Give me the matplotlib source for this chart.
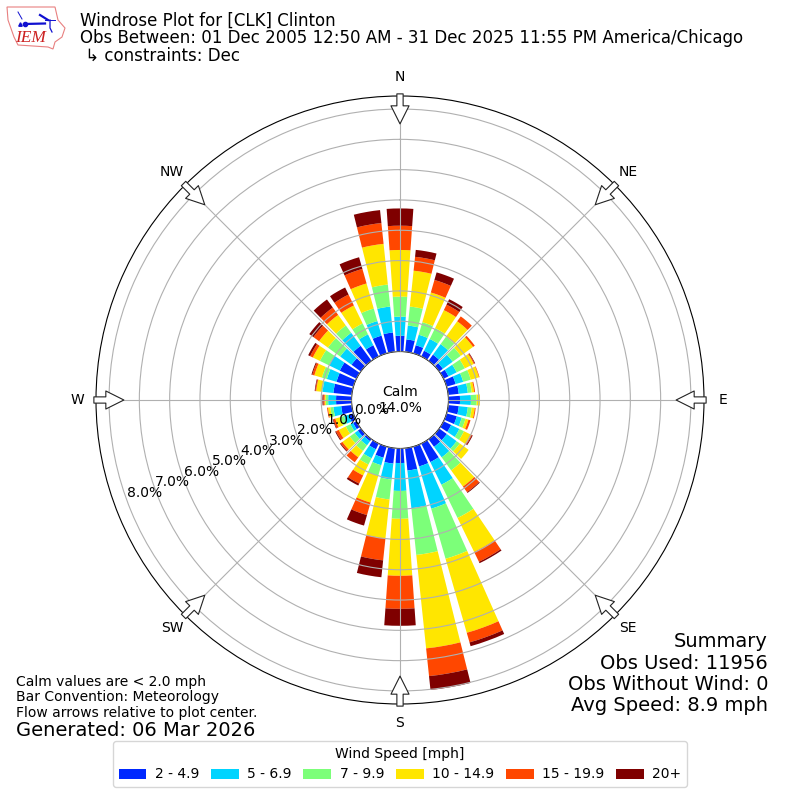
import numpy as np
import matplotlib
matplotlib.use("Agg")
import matplotlib.pyplot as plt
from matplotlib.patches import Polygon

directions = list(range(0, 360, 10))
speed_labels = ["2 - 4.9", "5 - 6.9", "7 - 9.9", "10 - 14.9", "15 - 19.9", "20+"]
speed_colors = ["#0028ff", "#00d4ff", "#7cff79", "#ffe600", "#ff4700", "#7f0000"]
speed_2_5 = [.52,.41,.28,.21,.25,.15,.18,.31,.35,.38,.35,.35,.28,.31,.31,.68,.68,.74,.48,.51,.38,.21,.08,.12,.12,.15,.35,.51,.61,.58,.61,.38,.61,.41,.61,.64]
speed_5_7 = [.63,.46,.36,.43,.43,.40,.30,.26,.30,.36,.30,.17,.30,.40,.43,.83,1.45,1.25,.92,.53,.26,.33,.17,.13,.10,.17,.26,.26,.36,.33,.40,.46,.53,.40,.50,.86]
speed_7_10 = [.66,.63,.43,.40,.30,.33,.30,.26,.13,.19,.13,.13,.17,.13,.53,1.22,1.72,1.55,.92,.66,.36,.23,.23,.20,.17,.13,.10,.08,.03,.17,.33,.50,.30,.40,.43,.73]
speed_10_15 = [1.54,1.19,1.02,.66,.63,.50,.33,.28,.08,.11,.10,.10,.26,.36,.66,1.25,2.54,3.10,1.88,1.29,.92,.40,.26,.30,.26,.17,.08,.04,.18,.26,.26,.36,.43,.66,.86,1.35]
speed_15_20 = [.80,.46,.43,.20,.20,.07,.03,.02,.03,0,.03,.07,.03,0,.23,.36,.33,.92,1.09,.73,.43,.30,.20,.07,.10,.07,.03,.04,.03,.07,.10,.23,.30,.40,.50,.69]
speed_20p = [.57,.23,.26,.20,0,0,.02,0,0,0,0,0,.03,0,.03,.05,.13,.46,.56,.56,.36,.07,0,.03,.03,.02,0,.03,.02,.03,.07,.17,.33,.26,.40,.43]
all_speeds = [speed_2_5, speed_5_7, speed_7_10, speed_10_15, speed_15_20, speed_20p]

r_ticks = [0, 1, 2, 3, 4, 5, 6, 7, 8]
compass = ["N", "NE", "E", "SE", "S", "SW", "W", "NW"]
title_lines = ["Windrose Plot for [CLK] Clinton",
               "Obs Between: 01 Dec 2005 12:50 AM - 31 Dec 2025 11:55 PM America/Chicago",
               " \u21b3 constraints: Dec"]
summary = "Summary\nObs Used: 11956\nObs Without Wind: 0\nAvg Speed: 8.9 mph"
notes = "Calm values are < 2.0 mph\nBar Convention: Meteorology\nFlow arrows relative to plot center."

fig = plt.figure(figsize=(8, 8), dpi=100)
ax = fig.add_axes([0.12, 0.12, 0.76, 0.76], projection="polar")
ax.set_theta_zero_location("N")
ax.set_theta_direction(-1)

theta = np.deg2rad(directions)
bottom = np.zeros(len(directions))
for vals, lab, col in zip(all_speeds, speed_labels, speed_colors):
    ax.bar(theta, vals, width=np.deg2rad(8), bottom=bottom, color=col, linewidth=0, label=lab, zorder=1)
    bottom += np.array(vals)

ax.set_axisbelow(False)
ax.grid(True, color="#b0b0b0", linewidth=0.8)
ax.set_ylim(0, 8.43)
ax.set_rorigin(-1.6)
ax.set_rticks(r_ticks)
ax.set_yticklabels([f"{v:.1f}%" for v in r_ticks], fontsize=10)
ax.set_rlabel_position(250)
ax.set_xticks(np.deg2rad(np.arange(0, 360, 45)))
ax.set_xticklabels(compass, fontsize=10)
ax.tick_params(axis="x", pad=2.9)

ax.text(0.5, 0.5, "Calm\n14.0%", transform=ax.transAxes, ha="center", va="center", fontsize=10, zorder=10)

for ang in np.arange(0, 360, 45):
    ax.annotate("", xy=(np.deg2rad(ang), 7.51), xytext=(np.deg2rad(ang), 8.5),
                annotation_clip=False, zorder=6,
                arrowprops=dict(facecolor="white", edgecolor="#222222", linewidth=0.8,
                                width=4.5, headwidth=13, headlength=13, shrink=0))

for line, ypix in zip(title_lines, [20.5, 38, 55.5]):
    fig.text(0.1, 1 - ypix / 800, line, fontsize=12, ha="left", va="center")
fig.text(0.96, 0.106, summary, fontsize=14, ha="right", va="bottom", linespacing=1.15)
fig.text(0.02, 0.1, notes, fontsize=10, ha="left", va="bottom", linespacing=1.15)
fig.text(0.02, 0.075, "Generated: 06 Mar 2026", fontsize=14, ha="left", va="bottom")

leg = ax.legend(loc="lower center", bbox_to_anchor=(0.5, 0.0075), bbox_transform=fig.transFigure,
                ncol=6, title="Wind Speed [mph]", fontsize=10, title_fontsize=10,
                columnspacing=0.85, handletextpad=0.6)

# IEM logo
lax = fig.add_axes([0, 1 - 60 / 800, 70 / 800, 60 / 800])
lax.set_xlim(0, 70)
lax.set_ylim(60, 0)
lax.axis("off")
iowa_x = [7, 55, 58, 65, 62, 55, 53, 48, 18, 14, 8]
iowa_y = [7, 7, 20, 28, 37, 42, 49, 47, 45, 37, 20]
lax.add_patch(Polygon(np.column_stack([iowa_x, iowa_y]), closed=True, facecolor="white", edgecolor="#e88080", linewidth=0.8))
lax.plot([24, 45], [24, 23.5], color="#1010d0", lw=1.6)
lax.plot([40, 48], [15, 20], color="#1010d0", lw=1.6)
lax.plot([18, 22], [12, 19], color="#1010d0", lw=0.7)
lax.plot([25], [24], marker="o", ms=3, color="#1010d0")
lax.plot([20], [24], marker="^", ms=2.5, color="#1010d0")
lax.plot([50, 50, 52], [20, 28, 32], color="#1010d0", lw=0.9)
lax.plot([45, 55], [20, 20], color="#1010d0", lw=0.7)
lax.text(30.5, 38, "IEM", color="#cc2020", style="italic", family="Liberation Serif", fontsize=12.5, ha="center", va="center")

fig.savefig("out.png", dpi=100)
